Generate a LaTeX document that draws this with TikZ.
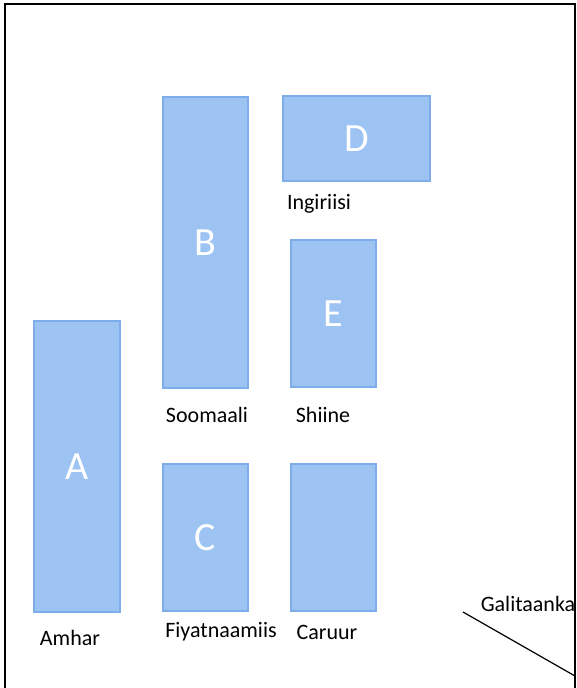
\documentclass[tikz,border=0pt]{standalone}
\usepackage{fontspec}
\setmainfont{Carlito}
\definecolor{boxfill}{HTML}{9DC3F2}
\definecolor{boxline}{HTML}{7EADEB}
\tikzset{
  langbox/.style={draw=boxline, fill=boxfill, line width=1.2pt, inner sep=0pt,
    text=white, font=\fontsize{40}{44}\selectfont},
  langlabel/.style={font=\fontsize{22}{26}\selectfont, inner sep=0pt}
}
\begin{document}
\begin{tikzpicture}[x=1pt, y=-1pt]
                \useasboundingbox (0,0) rectangle (576,688);

                \draw[line width=1.4pt] (5,688) -- (5,4) -- (575,4) -- (575,688);

                \node[langbox, minimum width=86pt, minimum height=291pt] (A) at (77,466.5) {A};
                \node[langbox, minimum width=85pt, minimum height=291pt] (B) at (205.5,242.5) {B};
                \node[langbox, minimum width=85pt, minimum height=147pt] (C) at (205.5,537.5) {C};
                \node[langbox, minimum width=147pt, minimum height=85pt] (D) at (356.5,138.5) {D};
                \node[langbox, minimum width=85pt, minimum height=147pt] (E) at (333.5,313.5) {E};
                \node[langbox, minimum width=85pt, minimum height=147pt] (F) at (333.5,537.5) {};

                \node[langlabel] (ingiriisi) at (319,204) {Ingiriisi};
                \node[langlabel] (soomaali) at (207,415) {Soomaali};
                \node[langlabel] (shiine) at (323,415) {Shiine};
                \node[langlabel] (amhar) at (70,638) {Amhar};
                \node[langlabel] (fiyatnaamiis) at (221,632) {Fiyatnaamiis};
                \node[langlabel] (caruur) at (327,632) {Caruur};
                \node[langlabel] (galitaanka) at (528,604) {Galitaanka};

                \coordinate (L1) at (463,612);
                \coordinate (L2) at (575,676);
                \draw[line width=1.2pt] (L1) -- (L2);
            \end{tikzpicture}
\end{document}
